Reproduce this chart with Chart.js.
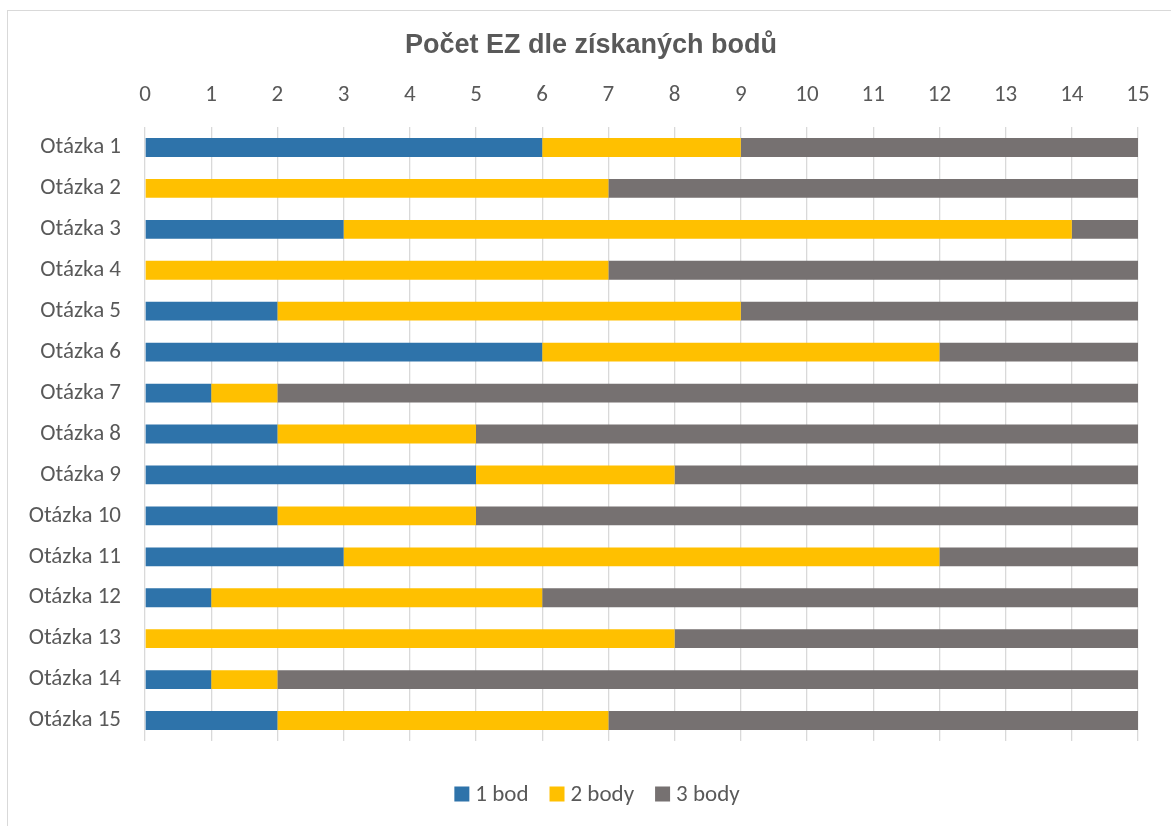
<!DOCTYPE html>
<html>
<head>
<meta charset="utf-8">
<script src="https://cdn.jsdelivr.net/npm/chart.js@4/dist/chart.umd.min.js"></script>
<style>
  html, body { margin: 0; padding: 0; background: #fff; }
  #wrap { position: relative; width: 1171px; height: 826px; overflow: hidden; }
  #frame { position: absolute; left: 7px; top: 10px; width: 1200px; height: 900px; border: 1px solid #d9d9d9; box-sizing: border-box; }
  canvas { position: absolute; left: 0; top: 0; }
</style>
</head>
<body>
<div id="wrap">
  <div id="frame"></div>
  <canvas id="chart" width="1171" height="826"></canvas>
</div>
<script>
// ── Data ─────────────────────────────────────────────────────────────────────
const TITLE      = 'Počet EZ dle získaných bodů';
const categories = ['Otázka 1', 'Otázka 2', 'Otázka 3', 'Otázka 4', 'Otázka 5',
                    'Otázka 6', 'Otázka 7', 'Otázka 8', 'Otázka 9', 'Otázka 10',
                    'Otázka 11', 'Otázka 12', 'Otázka 13', 'Otázka 14', 'Otázka 15'];
const bod1  = [6, 0, 3, 0, 2, 6, 1, 2, 5, 2, 3, 1, 0, 1, 2];
const body2 = [3, 7, 11, 7, 7, 6, 1, 3, 3, 3, 9, 5, 8, 1, 5];
const body3 = [6, 8, 1, 8, 6, 3, 13, 10, 7, 10, 3, 9, 7, 13, 8];
const seriesNames = ['1 bod', '2 body', '3 body'];
const xMax = 15;

const TEXT  = '#595959';
const TICKF = '"Carlito", "Lato", sans-serif';
const TICKS = 23;

// Titulek a legenda kreslené ručně, aby seděly pozice
const decorPlugin = {
  id: 'decor',
  afterDraw(chart) {
    const ctx = chart.ctx;
    ctx.save();
    ctx.fillStyle = TEXT;
    ctx.font = 'bold 27px "Liberation Sans", Arial, sans-serif';
    ctx.textAlign = 'center';
    ctx.textBaseline = 'middle';
    ctx.fillText(TITLE, 591, 46);

    // legenda
    ctx.font = TICKS + 'px ' + TICKF;
    const box = 15, gapText = 6, gapItem = 21;
    const items = chart.data.datasets.map(ds => ({ label: ds.label, color: ds.backgroundColor, w: ctx.measureText(ds.label).width }));
    const total = items.reduce((s, it) => s + box + gapText + it.w, 0) + gapItem * (items.length - 1);
    let x = 597 - total / 2;
    const cy = 794;
    ctx.textAlign = 'left';
    items.forEach(it => {
      ctx.fillStyle = it.color;
      ctx.fillRect(x, cy - box / 2, box, box);
      x += box + gapText;
      ctx.fillStyle = TEXT;
      ctx.fillText(it.label, x, cy + 1);
      x += it.w + gapItem;
    });
    ctx.restore();
  }
};

const colors = ['#2E73AA', '#FFC000', '#767171'];
const values = [bod1, body2, body3];

new Chart(document.getElementById('chart'), {
  type: 'bar',
  plugins: [decorPlugin],
  data: {
    labels: categories,
    datasets: values.map((data, i) => ({
      label: seriesNames[i], data,
      backgroundColor: colors[i],
      borderWidth: 0,
      categoryPercentage: 1, barPercentage: 0.46,
    })),
  },
  options: {
    indexAxis: 'y',
    responsive: false, animation: false,
    layout: { padding: { top: 70, bottom: 85, left: 0, right: 33 } },
    plugins: { legend: { display: false }, title: { display: false }, tooltip: { enabled: false } },
    scales: {
      x: {
        position: 'top', stacked: true, min: 0, max: xMax,
        ticks: { stepSize: 1, color: TEXT, font: { family: TICKF, size: TICKS }, padding: 18 },
        grid: { color: '#d9d9d9', lineWidth: 1.3, drawTicks: false },
        border: { display: false },
        afterFit(scale) { scale.height = 57; },
      },
      y: {
        stacked: true,
        ticks: { color: TEXT, font: { family: TICKF, size: TICKS }, padding: 24 },
        grid: { display: false, drawTicks: false },
        border: { display: false },
        afterFit(scale) { scale.width = 145; },
      },
    },
  },
});
</script>
</body>
</html>
